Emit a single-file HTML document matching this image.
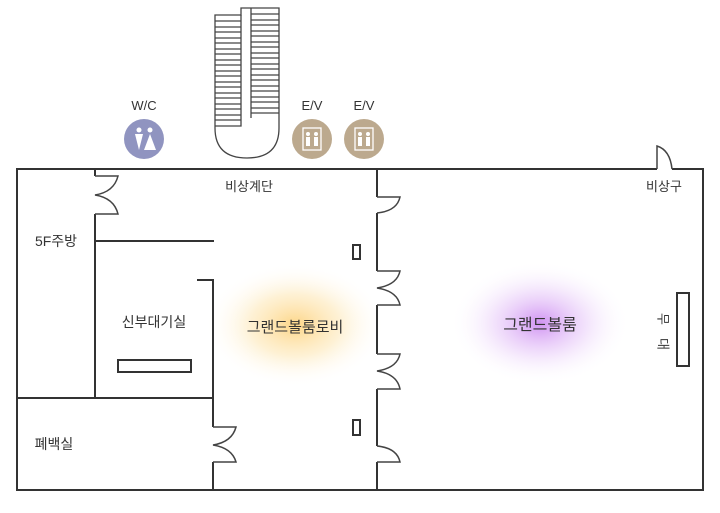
<!DOCTYPE html>
<html><head><meta charset="utf-8"><style>
body{margin:0;background:#fff;width:720px;height:508px;overflow:hidden;font-family:"Liberation Sans","Noto Sans CJK KR",sans-serif;}
</style></head><body>
<svg width="720" height="508" viewBox="0 0 720 508" xmlns="http://www.w3.org/2000/svg">
<defs>
<radialGradient id="og"><stop offset="0" stop-color="#fcc860" stop-opacity="0.75"/><stop offset="0.5" stop-color="#fde0a0" stop-opacity="0.45"/><stop offset="1" stop-color="#fff" stop-opacity="0"/></radialGradient>
<radialGradient id="pg"><stop offset="0" stop-color="#c880f0" stop-opacity="0.85"/><stop offset="0.5" stop-color="#e2bdf7" stop-opacity="0.45"/><stop offset="1" stop-color="#fff" stop-opacity="0"/></radialGradient>
</defs>
<ellipse cx="295" cy="325" rx="90" ry="62" fill="url(#og)"/>
<ellipse cx="540" cy="323" rx="90" ry="62" fill="url(#pg)"/>
<g fill="none" stroke="#333" stroke-width="2">
<path d="M657,169 L17,169 L17,490 L703,490 L703,169 L672,169"/>
<path d="M95,169 V176 M95,214 V398"/>
<path d="M95,241 H214"/>
<path d="M197,280 H213 V427 M213,462 V490"/>
<path d="M17,398 H213"/>
<path d="M377,169 V197 M377,213 V271 M377,305 V354 M377,389 V446 M377,462 V490"/>
<rect x="118" y="360" width="73" height="12"/>
<rect x="353" y="245" width="7" height="14"/>
<rect x="353" y="420" width="7" height="15"/>
<rect x="677" y="293" width="12" height="73"/>
</g>
<g fill="none" stroke="#444" stroke-width="1.5">
<path d="M95,176 H118 Q114,192 95,195 Q114,198 118,214 H95"/>
<path d="M213,427 H236 Q232,442 213,445 Q232,448 236,462 H213"/>
<path d="M377,197 H400 Q397,211 377,213"/>
<path d="M377,271 H400 Q397,285 377,288 Q397,291 400,305 H377"/>
<path d="M377,354 H400 Q397,368 377,371 Q397,374 400,389 H377"/>
<path d="M377,446 Q397,448 400,462 H377"/>
<path d="M657,169 V146 Q670,150 672,169"/>
</g>
<g fill="none" stroke="#444" stroke-width="1.3">
<path d="M215,15 H241 V8 H279 V128 Q279,158 247,158 Q215,158 215,128 Z"/>
<path d="M241,15 V126 H215"/>
<path d="M251,8 V118"/>
<path d="M215,21H241M215,27H241M215,32H241M215,38H241M215,43H241M215,49H241M215,54H241M215,60H241M215,65H241M215,71H241M215,76H241M215,82H241M215,87H241M215,93H241M215,98H241M215,104H241M215,109H241M215,115H241M215,120H241"/>
<path d="M251,14H279M251,20H279M251,25H279M251,31H279M251,36H279M251,42H279M251,47H279M251,53H279M251,58H279M251,64H279M251,69H279M251,75H279M251,80H279M251,86H279M251,91H279M251,97H279M251,102H279M251,108H279M251,113H279"/>
</g>
<circle cx="144" cy="139" r="20" fill="#9094c0"/>
<circle cx="139" cy="130" r="2.5" fill="#fff"/><path d="M135,134 H143 L139,150 Z" fill="#fff"/>
<circle cx="150" cy="130" r="2.5" fill="#fff"/><path d="M150,134 L156,150 H144 Z" fill="#fff"/>
<g fill="#bca98e"><circle cx="312" cy="139" r="20"/><circle cx="364" cy="139" r="20"/></g>
<g fill="none" stroke="#fff" stroke-width="1.3">
<rect x="303" y="128" width="18" height="22"/><rect x="355" y="128" width="18" height="22"/>
</g>
<g fill="#fff">
<circle cx="308" cy="134" r="2"/><rect x="306" y="137" width="4" height="9"/><circle cx="316" cy="134" r="2"/><rect x="314" y="137" width="4" height="9"/>
<circle cx="360" cy="134" r="2"/><rect x="358" y="137" width="4" height="9"/><circle cx="368" cy="134" r="2"/><rect x="366" y="137" width="4" height="9"/>
</g>
<g font-family="Liberation Sans, Noto Sans CJK KR, sans-serif" fill="#333">
<text x="144" y="110" font-size="13" text-anchor="middle">W/C</text>
<text x="312" y="110" font-size="13" text-anchor="middle">E/V</text>
<text x="364" y="110" font-size="13" text-anchor="middle">E/V</text>
<text x="249" y="191" font-size="13" text-anchor="middle">비상계단</text>
<text x="664" y="191" font-size="13" text-anchor="middle">비상구</text>
<text x="56" y="246" font-size="14" text-anchor="middle">5F주방</text>
<text x="154" y="327" font-size="14" text-anchor="middle">신부대기실</text>
<text x="54" y="449" font-size="14" text-anchor="middle">폐백실</text>
<text x="295" y="332" font-size="15" text-anchor="middle">그랜드볼룸로비</text>
<text x="540" y="330" font-size="16" text-anchor="middle">그랜드볼룸</text>
<text transform="translate(662,319) rotate(90)" font-size="13" text-anchor="middle" dominant-baseline="middle">무</text>
<text transform="translate(662,344) rotate(90)" font-size="13" text-anchor="middle" dominant-baseline="middle">대</text>
</g>
</svg>
</body></html>
